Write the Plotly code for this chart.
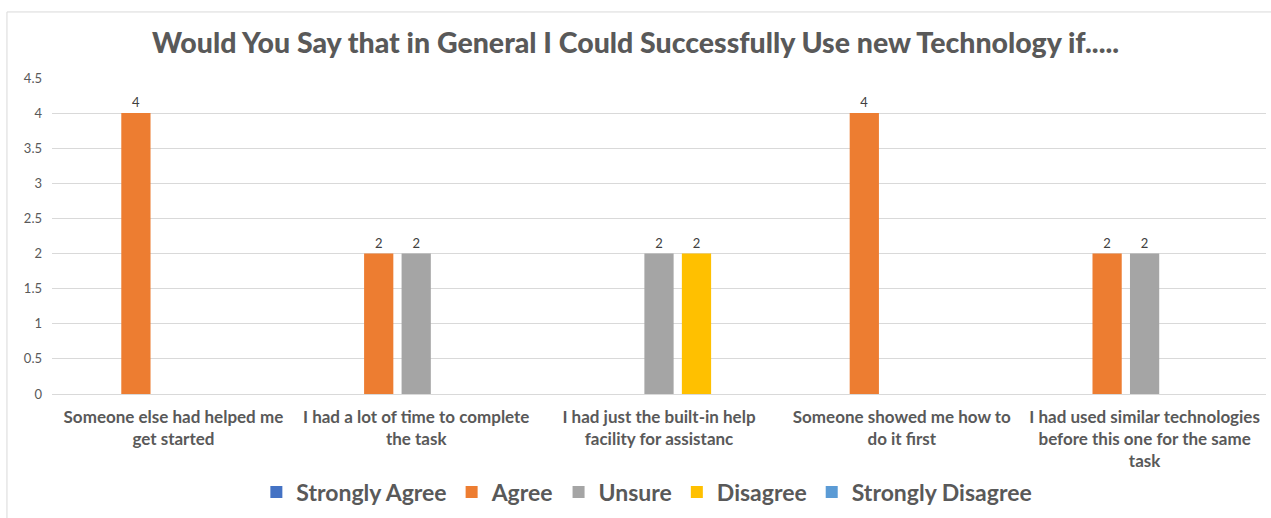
import plotly.graph_objects as go

# Survey statements (category labels, wrapped as shown on the axis)
categories = [
    "Someone else had helped me<br>get started",
    "I had a lot of time to complete<br>the task",
    "I had just the built-in help<br>facility for assistanc",
    "Someone showed me how to<br>do it first",
    "I had used similar technologies<br>before this one for the same<br>task",
]

# Response counts per answer option (None = no responses, no bar drawn)
strongly_agree = [None, None, None, None, None]
agree = [4, 2, None, 4, 2]
unsure = [None, 2, 2, None, 2]
disagree = [None, None, 2, None, None]
strongly_disagree = [None, None, None, None, None]

series = [
    ("Strongly Agree", strongly_agree, "#4472C4"),
    ("Agree", agree, "#ED7D31"),
    ("Unsure", unsure, "#A5A5A5"),
    ("Disagree", disagree, "#FFC000"),
    ("Strongly Disagree", strongly_disagree, "#5B9BD5"),
]

y_ticks = [0, 0.5, 1, 1.5, 2, 2.5, 3, 3.5, 4, 4.5]

FONT = "Lato"
GREY = "#595959"

fig = go.Figure()
for name, values, color in series:
    fig.add_trace(go.Bar(
        name=name,
        x=categories,
        y=values,
        marker=dict(color=color, line=dict(width=0)),
        texttemplate="%{y}",
        textposition="outside",
        textfont=dict(family=FONT, size=13, color="#404040"),
        cliponaxis=False,
    ))

fig.update_layout(
    width=1271,
    height=518,
    margin=dict(l=52, r=5, t=78, b=120),
    paper_bgcolor="white",
    plot_bgcolor="white",
    barmode="group",
    bargap=0.228,
    bargroupgap=0.22,
    uniformtext=dict(minsize=13, mode="show"),
    title=dict(
        text="Would You Say that in General I Could Successfully Use new Technology if.....",
        x=0.5,
        xanchor="center",
        y=1 - 43 / 518,
        yanchor="middle",
        font=dict(family=FONT, size=28.5, color=GREY, weight=900),
    ),
    xaxis=dict(
        showgrid=False,
        showline=False,
        ticks="",
        ticklabelstandoff=11,
        tickfont=dict(family=FONT, size=17, color=GREY, weight=700),
    ),
    yaxis=dict(
        range=[0, 4.5],
        tickvals=y_ticks,
        ticktext=[f"{v:g}" for v in y_ticks],
        showgrid=True,
        gridcolor="#D9D9D9",
        gridwidth=1,
        zeroline=True,
        zerolinecolor="#D9D9D9",
        zerolinewidth=1,
        showline=False,
        ticks="",
        ticklabelstandoff=9,
        tickfont=dict(family=FONT, size=13, color=GREY),
    ),
    legend=dict(
        orientation="h",
        x=0.49,
        xanchor="center",
        y=-0.31,
        yanchor="middle",
        font=dict(family=FONT, size=23, color=GREY, weight=700),
        itemsizing="constant",
    ),
    showlegend=True,
    shapes=[
        dict(
            type="rect",
            xref="paper",
            yref="paper",
            x0=-0.0371,
            x1=1.2,
            y0=-0.6,
            y1=1.209,
            line=dict(color="#D9D9D9", width=1),
            fillcolor="rgba(0,0,0,0)",
            layer="below",
        )
    ],
)

fig.write_html("out.html")
